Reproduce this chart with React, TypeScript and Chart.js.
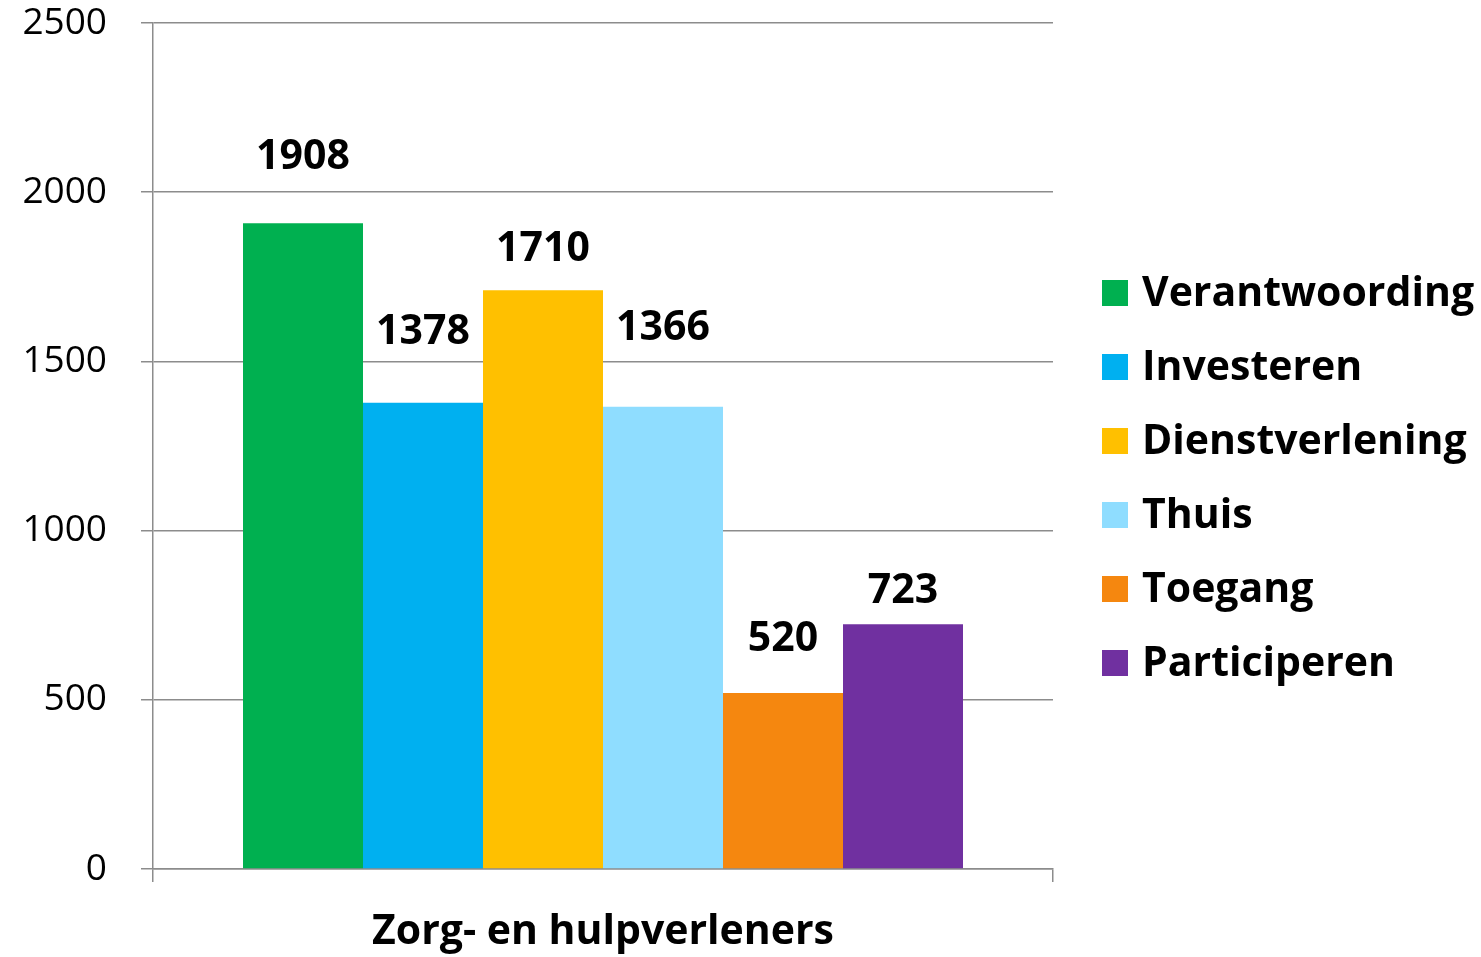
import React, { useEffect, useRef } from "react";
import { Chart, registerables } from "chart.js";

Chart.register(...registerables);

const categories = ["Zorg- en hulpverleners"];
const seriesNames = ["Verantwoording", "Investeren", "Dienstverlening", "Thuis", "Toegang", "Participeren"];
const seriesValues = [1908, 1378, 1710, 1366, 520, 723];
const seriesColors = ["#00B050", "#00B0F0", "#FFC000", "#8FDDFF", "#F5870F", "#7030A0"];
const yTicks = [0, 500, 1000, 1500, 2000, 2500];
// vertical gap (px) between bar top and its value label, as placed in the original
const labelGaps = [66, 70, 41, 78, 54, 33];

const FONT = "'Open Sans', 'Noto Sans', sans-serif";

const valueLabelPlugin = {
  id: "valueLabels",
  afterDatasetsDraw(chart: any) {
    const ctx = chart.ctx;
    ctx.save();
    ctx.font = `bold 41px ${FONT}`;
    ctx.fillStyle = "#000";
    ctx.textAlign = "center";
    ctx.textBaseline = "middle";
    chart.data.datasets.forEach((ds: any, i: number) => {
      const meta = chart.getDatasetMeta(i);
      meta.data.forEach((bar: any, j: number) => {
        ctx.fillText(String(ds.data[j]), bar.x, bar.y - labelGaps[i]);
      });
    });
    ctx.restore();
  },
};

const sideLegendPlugin = {
  id: "sideLegend",
  afterDraw(chart: any) {
    const ctx = chart.ctx;
    const area = chart.chartArea;
    const rowH = 74;
    const n = chart.data.datasets.length;
    const startY = (area.top + area.bottom) / 2 + 32 - ((n - 1) / 2) * rowH;
    const boxX = area.right + 49;
    const box = 26;
    ctx.save();
    ctx.font = `bold 41px ${FONT}`;
    ctx.textAlign = "left";
    ctx.textBaseline = "middle";
    chart.data.datasets.forEach((ds: any, i: number) => {
      const cy = startY + i * rowH;
      ctx.fillStyle = ds.backgroundColor;
      ctx.fillRect(boxX, cy - box / 2, box, box);
      ctx.fillStyle = "#000";
      ctx.fillText(ds.label, boxX + 40, cy + 1);
    });
    ctx.restore();
  },
};

export default function App() {
  const ref = useRef<HTMLCanvasElement>(null);
  useEffect(() => {
    document.body.style.margin = "0";
    const chart = new Chart(ref.current!, {
      type: "bar",
      data: {
        labels: categories,
        datasets: seriesNames.map((name, i) => ({
          label: name,
          data: [seriesValues[i]],
          backgroundColor: seriesColors[i],
          borderWidth: 0,
          categoryPercentage: 0.8,
          barPercentage: 1.0,
        })),
      },
      options: {
        animation: false,
        responsive: true,
        maintainAspectRatio: false,
        layout: { padding: { top: 23, right: 428, left: 0, bottom: 0 } },
        plugins: {
          legend: { display: false },
          tooltip: { enabled: false },
        },
        scales: {
          x: {
            grid: {
              display: true,
              drawOnChartArea: false,
              drawTicks: true,
              tickLength: 13,
              color: "#8c8c8c",
              lineWidth: 1.5,
              offset: true,
            },
            border: { display: true, color: "#8c8c8c", width: 1.5 },
            ticks: {
              color: "#000",
              font: { family: FONT, size: 41, weight: "bold" },
              padding: 26,
            },
            afterFit(scale: any) {
              scale.height = 88;
              scale.paddingLeft = 0;
              scale.paddingRight = 0;
            },
          },
          y: {
            min: 0,
            max: 2500,
            afterBuildTicks(scale: any) {
              scale.ticks = yTicks.map((v) => ({ value: v }));
            },
            grid: {
              color: "#8c8c8c",
              lineWidth: 1.5,
              tickLength: 12,
            },
            border: { display: true, color: "#8c8c8c", width: 1.5 },
            ticks: {
              color: "#000",
              font: { family: FONT, size: 37 },
              padding: 34,
              callback: (v: any) => String(v),
            },
            afterFit(scale: any) {
              scale.width = 153;
              scale.paddingTop = 0;
              scale.paddingBottom = 0;
            },
          },
        },
      },
      plugins: [valueLabelPlugin, sideLegendPlugin],
    });
    return () => chart.destroy();
  }, []);
  return (
    <div style={{ width: 1481, height: 957, position: "relative" }}>
      <canvas ref={ref} />
    </div>
  );
}
